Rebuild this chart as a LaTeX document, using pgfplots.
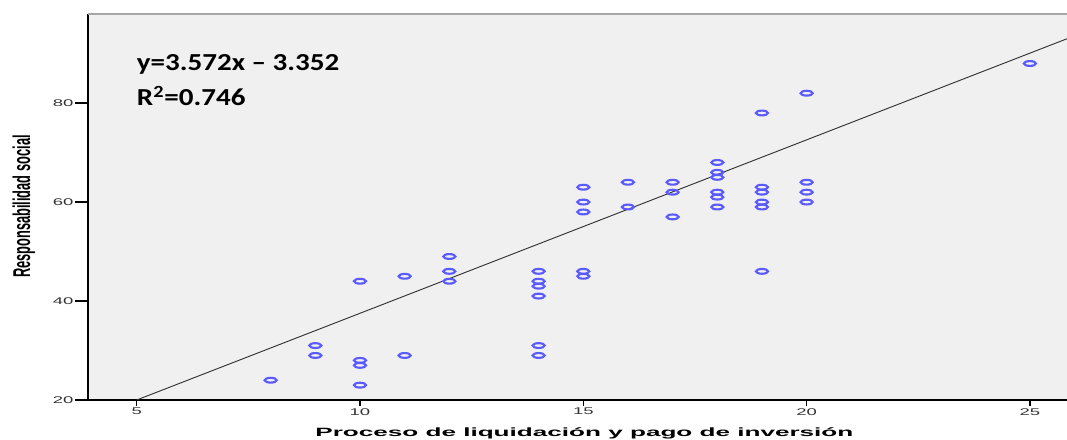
\documentclass[border=0pt]{standalone}
\usepackage{pgfplots}
\pgfplotsset{compat=1.18}
\usepackage{fontspec}
\setmainfont{Liberation Sans}
\newfontfamily\calib{Carlito}
\definecolor{bg}{HTML}{F0F0F0}
\definecolor{ptc}{HTML}{5A5AFF}
\definecolor{tl}{HTML}{333333}
\begin{document}
\begin{tikzpicture}
\begin{axis}[
  name=ax, anchor=south west, at={(0,0)},
  scale only axis, width=734.25pt, height=289.5pt,
  xmin=3.91, xmax=25.83, ymin=20, ymax=98,
  axis background/.style={fill=bg},
  axis line style={draw=none},
  xtick={5,10,15,20,25}, ytick={20,40,60,80},
  tick align=outside, major tick length=9.4pt,
  xtick style={draw=none},
  ytick style={black, line width=0.9pt},
  /pgf/number format/assume math mode=true,
  xticklabel={\scalebox{1.9}[1]{\pgfmathprintnumber{\tick}}},
  yticklabel={\scalebox{1.9}[1]{\pgfmathprintnumber{\tick}}},
  ticklabel style={font=\fontsize{7.3pt}{8pt}\selectfont, text=tl},
  xticklabel style={anchor=north, inner sep=0pt, yshift=3.4pt},
  yticklabel style={anchor=east, inner sep=0pt, xshift=-1.3pt},
  xlabel={\resizebox{403.5pt}{6.6pt}{\bfseries Proceso de liquidación y pago de inversión}},
  xlabel style={at={(axis description cs:0.507,0)}, anchor=base, yshift=-27.5pt, inner sep=0pt},
  ylabel={\resizebox{107pt}{13.2pt}{\bfseries Responsabilidad social}},
  ylabel style={at={(axis description cs:-0.0592,0.501)}, anchor=base, inner sep=0pt},
  clip=false,
]
\draw[black, line width=1.2pt] (rel axis cs:0,0) -- (rel axis cs:0,1);
\draw[black, line width=1pt] (rel axis cs:0,0) -- (rel axis cs:1,0);
\draw[gray!70, line width=1.4pt] (rel axis cs:0,1) -- (rel axis cs:1,1);
\pgfplotsinvokeforeach{5,10,15,20,25}{\draw[black, line width=1pt] (axis cs:#1,20) -- ++(0pt,-4.7pt);}
\addplot[no marks, color=tl, line width=0.7pt] coordinates {(5,20) (25.83,93)};
\addplot[only marks, mark=o, mark size=1.8pt, mark options={xscale=2.5, line width=1.6pt, draw=ptc}] coordinates {
(8,24) (9,31) (9,29) (10,44) (10,28) (10,27) (10,23) (11,45) (11,29)
(12,49) (12,46) (12,44) (14,46) (14,44) (14,43) (14,41) (14,31) (14,29)
(15,63) (15,60) (15,58) (15,46) (15,45) (16,64) (16,59) (17,64) (17,62) (17,57)
(18,68) (18,66) (18,65) (18,62) (18,61) (18,59)
(19,78) (19,63) (19,62) (19,60) (19,59) (19,46)
(20,82) (20,64) (20,62) (20,60) (25,88)};
\node[anchor=base west, inner sep=0pt, font=\fontsize{18.3pt}{20pt}\calib\bfseries] at (axis cs:5.0,86.6) {\scalebox{1.19}[1]{y=3.572x – 3.352}};
\node[anchor=base west, inner sep=0pt, font=\fontsize{18.3pt}{20pt}\calib\bfseries] at (axis cs:5.0,79.5) {\scalebox{1.19}[1]{R\textsuperscript{2}=0.746}};
\end{axis}
\pgfresetboundingbox
\path (-66pt,-29.25pt) rectangle (734.25pt,300pt);
\end{tikzpicture}
\end{document}
